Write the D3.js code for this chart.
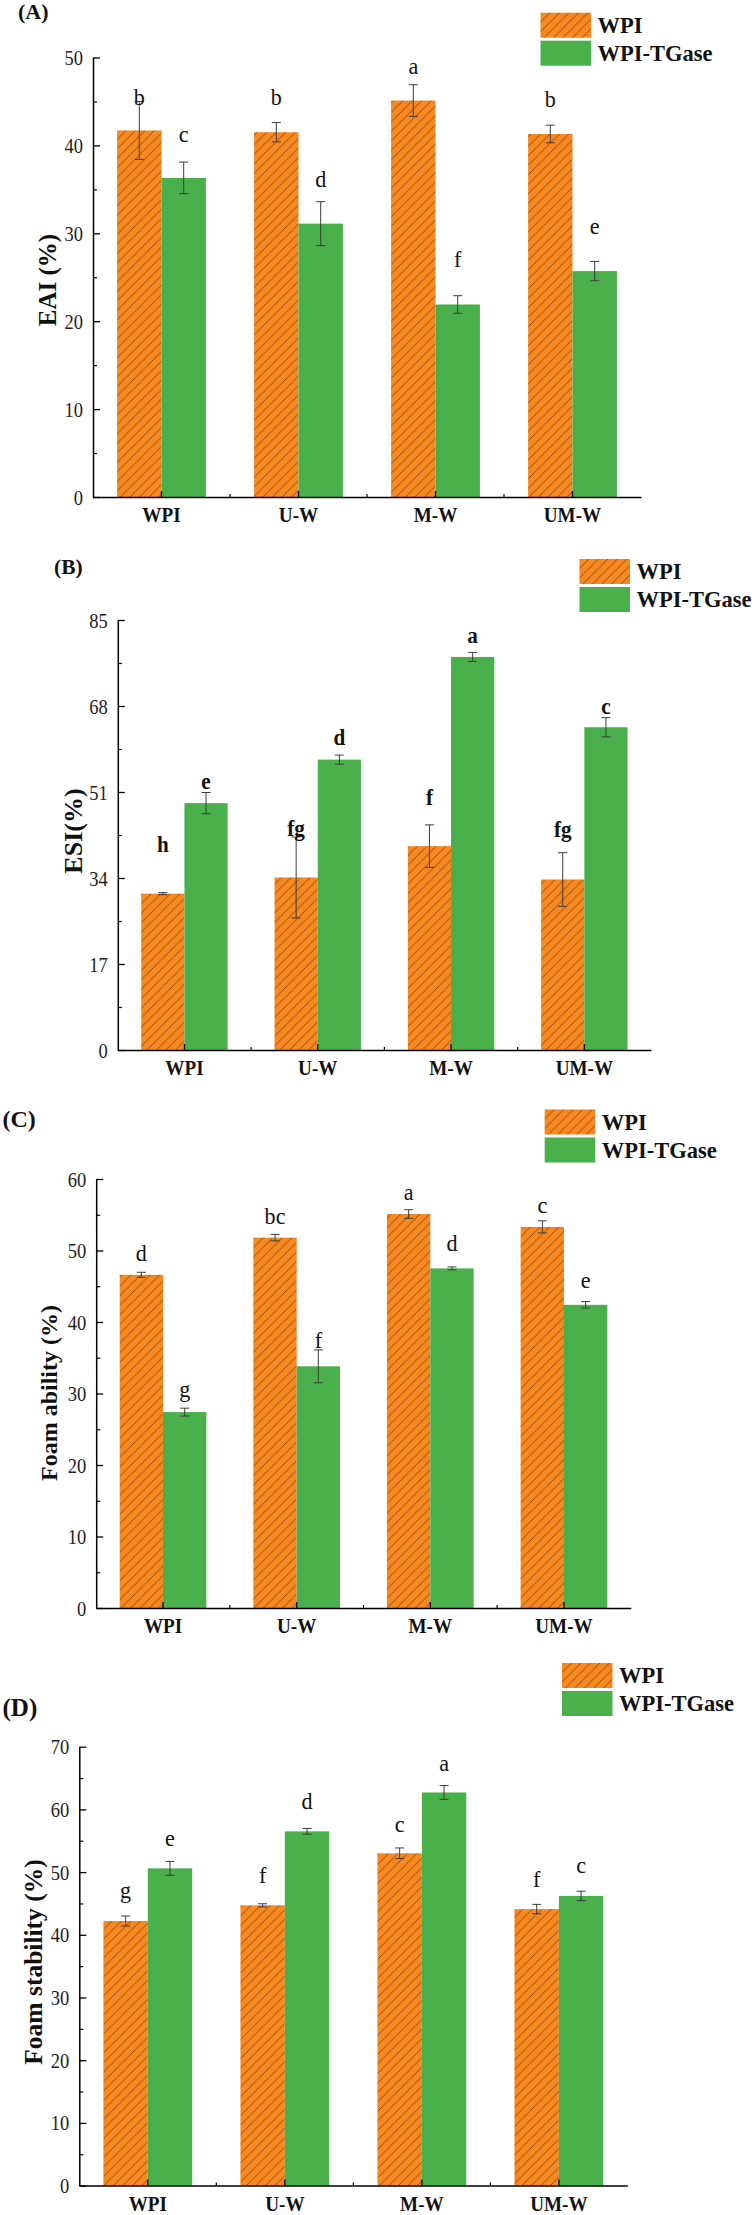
<!DOCTYPE html>
<html>
<head>
<meta charset="utf-8">
<script src="https://cdn.jsdelivr.net/npm/d3@7"></script>
<style>
  html, body { margin: 0; padding: 0; background: #fff; }
  svg { display: block; }
</style>
</head>
<body>
<svg id="chart" width="752" height="2215"></svg>
<script>
// ---------------- DATA ----------------
const categories = ["WPI", "U-W", "M-W", "UM-W"];
const seriesNames = ["WPI", "WPI-TGase"];

// (A) EAI (%)
const eaiWPI = [41.7, 41.5, 45.1, 41.3];
const eaiWPIErr = [3.3, 1.1, 1.8, 1.0];
const eaiTG = [36.3, 31.1, 21.9, 25.7];
const eaiTGErr = [1.8, 2.5, 1.0, 1.1];
const eaiWPILetters = ["b", "b", "a", "b"];
const eaiWPILetterAt = [44.6, 44.6, 48.1, 44.4];
const eaiTGLetters = ["c", "d", "f", "e"];
const eaiTGLetterAt = [40.4, 35.3, 26.2, 29.9];
const eaiTicks = [0, 10, 20, 30, 40, 50];
const eaiMinor = [5, 15, 25, 35, 45];

// (B) ESI (%)
const esiWPI = [30.9, 34.1, 40.3, 33.7];
const esiWPIErr = [0.2, 8.0, 4.2, 5.3];
const esiTG = [48.8, 57.4, 77.7, 63.8];
const esiTGErr = [2.1, 0.9, 0.9, 1.9];
const esiWPILetters = ["h", "fg", "f", "fg"];
const esiWPILetterAt = [39.1, 42.4, 48.5, 42.2];
const esiTGLetters = ["e", "d", "a", "c"];
const esiTGLetterAt = [51.6, 60.2, 80.5, 66.5];
const esiTicks = [0, 17, 34, 51, 68, 85];
const esiMinor = [8.5, 25.5, 42.5, 59.5, 76.5];

// (C) Foam ability (%)
const faWPI = [46.6, 51.8, 55.1, 53.3];
const faWPIErr = [0.35, 0.45, 0.6, 0.85];
const faTG = [27.4, 33.8, 47.5, 42.4];
const faTGErr = [0.55, 2.3, 0.2, 0.45];
const faWPILetters = ["d", "bc", "a", "c"];
const faWPILetterAt = [48.5, 53.7, 57.0, 55.2];
const faTGLetters = ["g", "f", "d", "e"];
const faTGLetterAt = [29.5, 36.3, 49.9, 44.7];
const faTicks = [0, 10, 20, 30, 40, 50, 60];
const faMinor = [5, 15, 25, 35, 45, 55];

// (D) Foam stability (%)
const fsWPI = [42.2, 44.7, 53.0, 44.1];
const fsWPIErr = [0.8, 0.25, 0.85, 0.75];
const fsTG = [50.6, 56.5, 62.7, 46.2];
const fsTGErr = [1.1, 0.45, 1.1, 0.75];
const fsWPILetters = ["g", "f", "c", "f"];
const fsWPILetterAt = [45.9, 48.2, 56.4, 47.6];
const fsTGLetters = ["e", "d", "a", "c"];
const fsTGLetterAt = [54.1, 60.0, 66.2, 49.9];
const fsTicks = [0, 10, 20, 30, 40, 50, 60, 70];
const fsMinor = [5, 15, 25, 35, 45, 55, 65];

// ---------------- STYLE ----------------
const ORANGE = "#F6881F";
const HATCH = "#6a3410";
const GREEN = "#49B04B";
const SERIF = "'Liberation Serif', 'Times New Roman', serif";

const svg = d3.select("#chart");
svg.append("rect").attr("width", 752).attr("height", 2215).attr("fill", "#fff");

const defs = svg.append("defs");
const pat = defs.append("pattern").attr("id", "hatch")
  .attr("patternUnits", "userSpaceOnUse").attr("width", 9.5).attr("height", 9.5);
pat.append("rect").attr("width", 9.5).attr("height", 9.5).attr("fill", ORANGE);
pat.append("path").attr("d", "M-1,1 L1,-1 M0,9.5 L9.5,0 M8.5,10.5 L10.5,8.5")
  .attr("stroke", HATCH).attr("stroke-width", 0.7);

function condense(sel, k) {
  sel.each(function () {
    const w = this.getComputedTextLength();
    if (w > 0) d3.select(this).attr("textLength", w * k).attr("lengthAdjust", "spacingAndGlyphs");
  });
}

function drawPanel(cfg, d) {
  const g = svg.append("g");
  const x = d3.scaleBand().domain(categories).range([cfg.x0, cfg.x1]).paddingInner(0).paddingOuter(0);
  const xs = d3.scaleBand().domain(seriesNames).range([0, x.bandwidth()]).paddingInner(0).paddingOuter(0.543);
  const y = d3.scaleLinear().domain([0, cfg.yMax]).range([cfg.yBottom, cfg.yTop]);

  const series = [
    { name: seriesNames[0], vals: d.wpi, errs: d.wpiErr, letters: d.wpiLetters, at: d.wpiAt, fill: "url(#hatch)" },
    { name: seriesNames[1], vals: d.tg, errs: d.tgErr, letters: d.tgLetters, at: d.tgAt, fill: GREEN }
  ];

  series.forEach(s => {
    const rows = categories.map((c, i) => ({ c, v: s.vals[i], e: s.errs[i], l: s.letters[i], a: s.at[i] }));
    const cx = r => x(r.c) + xs(s.name) + xs.bandwidth() / 2;
    g.selectAll(null).data(rows).enter().append("rect")
      .attr("x", r => x(r.c) + xs(s.name))
      .attr("y", r => y(r.v))
      .attr("width", xs.bandwidth())
      .attr("height", r => y(0) - y(r.v))
      .attr("fill", s.fill);
    const eb = g.selectAll(null).data(rows).enter().append("g")
      .attr("stroke", "#3c3c3c").attr("stroke-width", 1).attr("fill", "none");
    eb.append("line").attr("x1", cx).attr("x2", cx).attr("y1", r => y(r.v - r.e)).attr("y2", r => y(r.v + r.e));
    eb.append("line").attr("x1", r => cx(r) - 4.5).attr("x2", r => cx(r) + 4.5).attr("y1", r => y(r.v + r.e)).attr("y2", r => y(r.v + r.e));
    eb.append("line").attr("x1", r => cx(r) - 4.5).attr("x2", r => cx(r) + 4.5).attr("y1", r => y(r.v - r.e)).attr("y2", r => y(r.v - r.e));
    const lt = g.selectAll(null).data(rows).enter().append("text")
      .attr("x", cx).attr("y", r => y(r.a))
      .attr("text-anchor", "middle")
      .attr("font-family", SERIF)
      .attr("font-size", cfg.letterSize)
      .attr("font-weight", cfg.letterBold ? "bold" : "normal")
      .attr("fill", "#111")
      .text(r => r.l);
    condense(lt, 0.92);
  });

  // Y axis (ticks inside)
  const yAxis = g.append("g").attr("transform", `translate(${cfg.x0},0)`)
    .call(d3.axisLeft(y).tickValues(cfg.ticks).tickSize(-7).tickSizeOuter(0).tickPadding(10).tickFormat(d3.format("d")));
  yAxis.select(".domain").attr("stroke", "#000").attr("stroke-width", 1.5);
  yAxis.selectAll(".tick line").attr("stroke", "#000").attr("stroke-width", 1.3);
  const yt = yAxis.selectAll(".tick text").attr("font-family", SERIF).attr("font-size", 22).attr("fill", "#222");
  condense(yt, 0.84);
  const yMinor = g.append("g").attr("transform", `translate(${cfg.x0},0)`)
    .call(d3.axisLeft(y).tickValues(cfg.minor).tickSize(-4).tickSizeOuter(0).tickFormat(""));
  yMinor.select(".domain").remove();
  yMinor.selectAll(".tick line").attr("stroke", "#000").attr("stroke-width", 1.2);

  // X axis
  const xAxis = g.append("g").attr("transform", `translate(0,${cfg.yBottom})`)
    .call(d3.axisBottom(x).tickSize(-6).tickSizeOuter(0));
  xAxis.select(".domain").attr("stroke", "#000").attr("stroke-width", 1.5);
  xAxis.selectAll(".tick line").attr("stroke", "#000").attr("stroke-width", 1.3);
  const xt = xAxis.selectAll(".tick text").attr("y", 25).attr("dy", null)
    .attr("font-family", SERIF).attr("font-size", 22).attr("font-weight", "bold").attr("fill", "#111");
  condense(xt, 0.87);
  g.selectAll(null).data(categories.slice(1)).enter().append("line")
    .attr("x1", c => x(c)).attr("x2", c => x(c))
    .attr("y1", cfg.yBottom).attr("y2", cfg.yBottom - 3)
    .attr("stroke", "#000").attr("stroke-width", 1.2);

  // Y title
  g.append("text")
    .attr("transform", `translate(${cfg.ytX},${cfg.ytY}) rotate(-90)`)
    .attr("text-anchor", "middle")
    .attr("font-family", SERIF).attr("font-size", cfg.ytSize).attr("font-weight", "bold").attr("fill", "#111")
    .text(cfg.yTitle);

  // Panel tag
  g.append("text").attr("x", cfg.tagX).attr("y", cfg.tagY)
    .attr("font-family", SERIF).attr("font-size", cfg.tagSize).attr("font-weight", "bold").attr("fill", "#111")
    .text(cfg.tag);

  // Legend
  const lg = g.append("g").attr("transform", `translate(${cfg.lgX},${cfg.lgY})`);
  const lgItems = [{ n: seriesNames[0], f: "url(#hatch)" }, { n: seriesNames[1], f: GREEN }];
  lg.selectAll(null).data(lgItems).enter().append("rect")
    .attr("x", 0).attr("y", (dd, i) => i * 28).attr("width", 50.5).attr("height", 25).attr("fill", dd => dd.f);
  lg.selectAll(null).data(lgItems).enter().append("text")
    .attr("x", 57).attr("y", (dd, i) => i * 28 + 20)
    .attr("font-family", SERIF).attr("font-size", 22.5).attr("font-weight", "bold").attr("fill", "#111")
    .text(dd => dd.n);
}

drawPanel(
  { x0: 93, x1: 641, yTop: 57.5, yBottom: 497, yMax: 50, ticks: eaiTicks, minor: eaiMinor,
    yTitle: "EAI (%)", ytX: 56, ytY: 280, ytSize: 25, tag: "(A)", tagX: 18, tagY: 19, tagSize: 22,
    lgX: 540.5, lgY: 12.7, letterSize: 24, letterBold: false },
  { wpi: eaiWPI, wpiErr: eaiWPIErr, tg: eaiTG, tgErr: eaiTGErr,
    wpiLetters: eaiWPILetters, wpiAt: eaiWPILetterAt, tgLetters: eaiTGLetters, tgAt: eaiTGLetterAt });

drawPanel(
  { x0: 117.8, x1: 651, yTop: 620, yBottom: 1050, yMax: 85, ticks: esiTicks, minor: esiMinor,
    yTitle: "ESI(%)", ytX: 82, ytY: 831, ytSize: 26, tag: "(B)", tagX: 54, tagY: 574, tagSize: 21.5,
    lgX: 579.5, lgY: 559, letterSize: 23, letterBold: true },
  { wpi: esiWPI, wpiErr: esiWPIErr, tg: esiTG, tgErr: esiTGErr,
    wpiLetters: esiWPILetters, wpiAt: esiWPILetterAt, tgLetters: esiTGLetters, tgAt: esiTGLetterAt });

drawPanel(
  { x0: 96.2, x1: 630.8, yTop: 1179, yBottom: 1608, yMax: 60, ticks: faTicks, minor: faMinor,
    yTitle: "Foam ability (%)", ytX: 57, ytY: 1393, ytSize: 24, tag: "(C)", tagX: 2.5, tagY: 1127, tagSize: 24,
    lgX: 544.7, lgY: 1109.5, letterSize: 24, letterBold: false },
  { wpi: faWPI, wpiErr: faWPIErr, tg: faTG, tgErr: faTGErr,
    wpiLetters: faWPILetters, wpiAt: faWPILetterAt, tgLetters: faTGLetters, tgAt: faTGLetterAt });

drawPanel(
  { x0: 79.3, x1: 627.4, yTop: 1746.7, yBottom: 2185.6, yMax: 70, ticks: fsTicks, minor: fsMinor,
    yTitle: "Foam stability (%)", ytX: 41.5, ytY: 1962, ytSize: 25.5, tag: "(D)", tagX: 2.5, tagY: 1716, tagSize: 25,
    lgX: 562, lgY: 1663, letterSize: 24, letterBold: false },
  { wpi: fsWPI, wpiErr: fsWPIErr, tg: fsTG, tgErr: fsTGErr,
    wpiLetters: fsWPILetters, wpiAt: fsWPILetterAt, tgLetters: fsTGLetters, tgAt: fsTGLetterAt });
</script>
</body>
</html>
